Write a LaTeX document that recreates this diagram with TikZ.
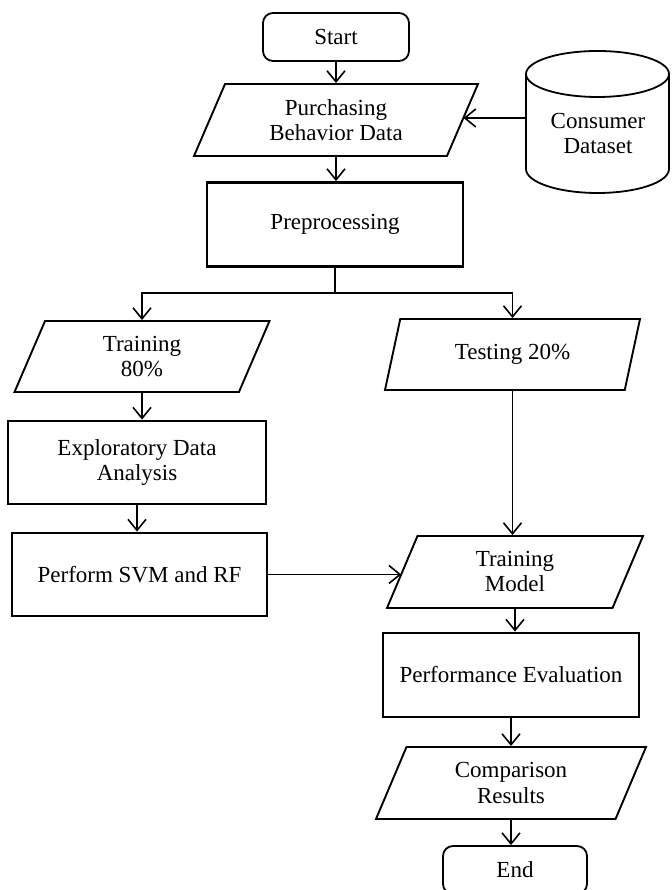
\documentclass[tikz,border=0pt]{standalone}
\usepackage{fontspec}
\setmainfont{Liberation Serif}
\usetikzlibrary{shapes.geometric,arrows.meta}
\begin{document}
\begin{tikzpicture}[x=1pt,y=1pt,
  font=\fontsize{23}{25}\selectfont,
  terminal/.style={draw, line width=1.8pt, rounded corners=10pt, minimum width=146pt, minimum height=48pt, inner sep=0pt},
  iobox/.style={draw, line width=1.9pt, shape=trapezium, trapezium left angle=53, trapezium right angle=127, trapezium stretches body, minimum height=72pt, inner sep=0pt, align=center},
  procbox/.style={draw, line width=2.8pt, minimum width=256pt, minimum height=84pt, inner sep=0pt, align=center},
  flow/.style={line width=1.6pt, -{Straight Barb[length=11pt,width=18pt]}},
  link/.style={line width=1.6pt}
]
\useasboundingbox (0,0) rectangle (671,890);

% --- nodes ---
\node[terminal] (start) at (336,853) {Start};
\node[iobox, minimum width=284pt] (purch) at (336,770) {Purchasing\\Behavior Data};

% data store drawn as a cylinder
\draw[line width=1.8pt] (597.5,816) ellipse [x radius=71.5, y radius=23];
\draw[line width=1.8pt] (526,816) -- (526,721)
  arc[start angle=180, end angle=360, x radius=71.5, y radius=24] -- (669,816);
\node[align=center] (ds) at (598,756) {Consumer\\Dataset};
\coordinate (dsin) at (526,772);

\node[procbox] (prep) at (335,665.5) {Preprocessing};
\coordinate (split) at (335,597);

\node[iobox, minimum width=255pt, minimum height=71pt] (train) at (142,533.5) {Training\\80\%};
\node[iobox, minimum width=255pt, minimum height=71pt] (test) at (512.5,535.5) {Testing 20\%};

\node[procbox, minimum width=258pt, minimum height=83pt] (eda) at (137,427.5) {Exploratory Data\\Analysis};
\node[procbox, minimum width=255pt, minimum height=83pt] (svm) at (139.5,315.5) {Perform SVM and RF};

\node[iobox, minimum width=256pt] (tm) at (515,318) {Training\\Model};
\node[procbox] (eval) at (511,215) {Performance Evaluation};
\node[iobox, minimum width=270pt] (cmp) at (511,107) {Comparison\\Results};
\node[terminal, minimum width=144pt] (end) at (515,20) {End};

% --- connectors ---
\draw[flow] (start) -- (purch);
\draw[flow] (dsin) -- (dsin -| purch.east);
\draw[flow] (purch.center |- purch.south) -- (purch.center |- prep.north);
\draw[link] (prep.south) -- (split);
\draw[flow] (split) -| (train.center |- train.north);
\draw[flow] (split) -| (test.center |- test.north);
\draw[flow] (train.center |- train.south) -- (train.center |- eda.north);
\draw[flow] (eda.south) -- (eda.south |- svm.north);
\draw[flow] (test.center |- test.south) -- (test.center |- tm.north);
\draw[flow] (svm.east) -- (svm.east -| tm.west);
\draw[flow] (tm.center |- tm.south) -- (tm.center |- eval.north);
\draw[flow] (eval.south) -- (eval.south |- cmp.north);
\draw[flow] (cmp.center |- cmp.south) -- (cmp.center |- end.north);
\end{tikzpicture}
\end{document}
